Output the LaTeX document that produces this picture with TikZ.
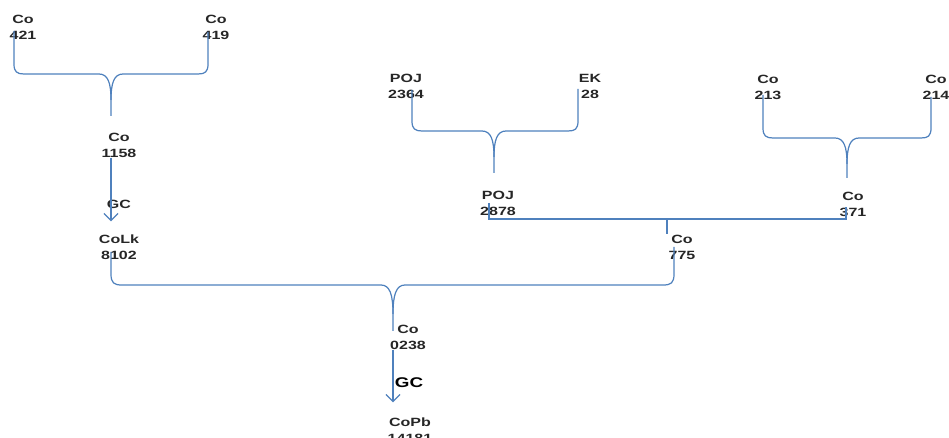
\documentclass[tikz,border=0pt]{standalone}
\usepackage{fontspec}
\setmainfont{Liberation Sans}[FakeStretch=1.34]
\usetikzlibrary{arrows.meta}
\definecolor{linkblue}{RGB}{79,129,189}
\tikzset{
  lbl/.style={font=\fontsize{6.8}{9.1}\selectfont\bfseries, align=center, inner sep=0pt, text=black!85},
  biglbl/.style={font=\fontsize{8}{9}\selectfont\bfseries, inner sep=0pt, text=black},
  link/.style={draw=linkblue, line width=0.7pt},
  flow/.style={link, -{Straight Barb[length=4pt,width=8pt]}}
}
\begin{document}
\begin{tikzpicture}[x=0.02cm,y=-0.02cm]
\useasboundingbox (0,0) rectangle (949,438);

% first generation
\node[lbl] (n421) at (23,27) {Co\\421};
\node[lbl] (n419) at (216,27) {Co\\419};
\node[lbl] (n2364) at (406,86) {POJ\\2364};
\node[lbl] (n28) at (590,86) {EK\\28};
\node[lbl] (n213) at (768,87) {Co\\213};
\node[lbl] (n214) at (936,87) {Co\\214};

% crosses
\node[lbl] (n1158) at (119,145) {Co\\1158};
\node[lbl] (n2878) at (498,203) {POJ\\2878};
\node[lbl] (n371) at (853,204) {Co\\371};
\node[lbl] (nCoLk) at (119,247) {CoLk\\8102};
\node[lbl] (n775) at (682,247) {Co\\775};
\node[lbl] (n0238) at (408,337) {Co\\0238};
\node[lbl] (nCoPb) at (410,430) {CoPb\\14181};

\node[lbl] (gc1) at (119,204) {GC};
\node[biglbl] (gc2) at (409,383) {GC};

% braces
\coordinate (tipA) at (111,116);
\draw[link] (14,31) -- (14,64) .. controls (14,72) and (17,74) .. (24,74) -- (99,74) .. controls (108,74) and (111,83) .. (111,100) -- (tipA);
\draw[link] (208,32) -- (208,64) .. controls (208,72) and (205,74) .. (198,74) -- (123,74) .. controls (114,74) and (111,83) .. (111,100);

\coordinate (tipB) at (494,173);
\draw[link] (412,90) -- (412,121) .. controls (412,129) and (415,131) .. (422,131) -- (482,131) .. controls (491,131) and (494,140) .. (494,157) -- (tipB);
\draw[link] (578,89) -- (578,121) .. controls (578,129) and (575,131) .. (568,131) -- (506,131) .. controls (497,131) and (494,140) .. (494,157);

\coordinate (tipC) at (847,178);
\draw[link] (763,95) -- (763,128) .. controls (763,136) and (766,138) .. (773,138) -- (835,138) .. controls (844,138) and (847,147) .. (847,164) -- (tipC);
\draw[link] (931,97) -- (931,128) .. controls (931,136) and (928,138) .. (921,138) -- (859,138) .. controls (850,138) and (847,147) .. (847,164);

\coordinate (tipD) at (667,234);
\draw[link] (489,203) |- (846,219) -- (846,207);
\draw[link] (tipD |- 0,219) -- (tipD);

\coordinate (tipE) at (393,331);
\draw[link] (111,252) -- (111,274) .. controls (111,283) and (114,285) .. (122,285) -- (381,285) .. controls (390,285) and (393,295) .. (393,314) -- (tipE);
\draw[link] (674,247) -- (674,274) .. controls (674,283) and (671,285) .. (663,285) -- (405,285) .. controls (396,285) and (393,295) .. (393,314);

% arrows
\draw[flow, shorten >=7.4pt] (n1158.south -| tipA) -- (nCoLk.north -| tipA);
\draw[flow, shorten >=8.5pt] (n0238.south -| tipE) -- (nCoPb.north -| tipE);
\end{tikzpicture}
\end{document}
